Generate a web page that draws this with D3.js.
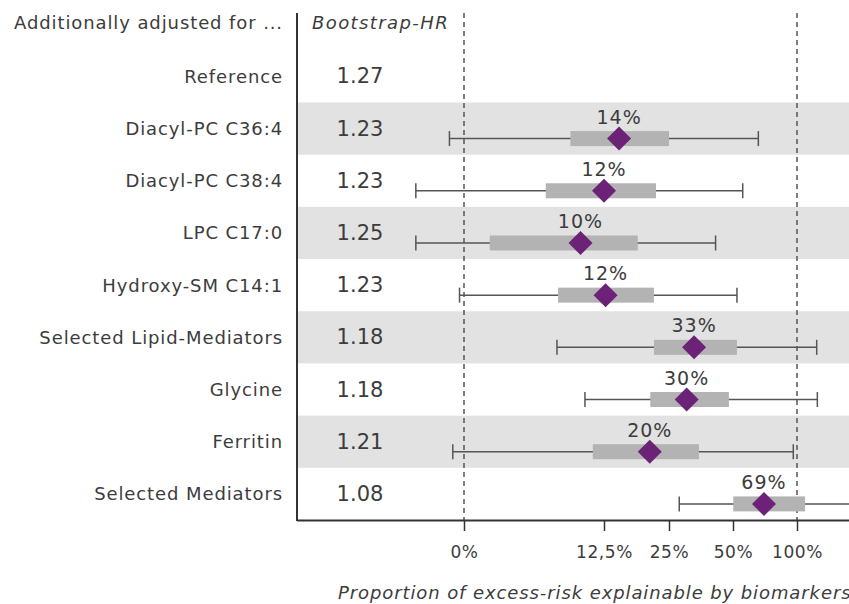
<!DOCTYPE html>
<html><head><meta charset="utf-8">
<script src="https://cdn.jsdelivr.net/npm/d3@7/dist/d3.min.js"></script>
<style>
body{margin:0;background:#fff;}
svg{display:block;font-family:"DejaVu Sans",sans-serif;}
</style></head>
<body><svg id="c" width="849" height="604"></svg>
<script>
// ---- data ----
const categories = ["Reference","Diacyl-PC C36:4","Diacyl-PC C38:4","LPC C17:0","Hydroxy-SM C14:1","Selected Lipid-Mediators","Glycine","Ferritin","Selected Mediators"];
const hrValues   = ["1.27","1.23","1.23","1.25","1.23","1.18","1.18","1.21","1.08"];
const pctLabels  = [null,"14%","12%","10%","12%","33%","30%","20%","69%"];
const pointEst   = [null,0.154,0.125,0.104,0.128,0.348,0.319,0.213,0.742];
const boxLow     = [null,0.095,0.073,0.023,0.084,0.221,0.214,0.115,0.502];
const boxHigh    = [null,0.250,0.225,0.190,0.221,0.531,0.484,0.367,1.063];
const ciLow      = [null,-0.013,-0.043,-0.043,-0.004,0.083,0.108,-0.010,0.290];
const ciHigh     = [null,0.698,0.576,0.432,0.531,1.154,1.159,0.971,1.500];
const tickValues = [0,0.125,0.25,0.5,1];
const tickLabels = ["0%","12,5%","25%","50%","100%"];
const bandRows   = [1,3,5,7];

// ---- layout ----
const W = 849, H = 604;
const axisX = 297, plotRight = 849, topY = 50.3, bottomY = 520;
const svg = d3.select("#c");
const txt = "#3c3c3c";
const labelStyle = s => s.style("font-size","18px").style("letter-spacing","0.9px").attr("fill",txt);

const y = d3.scaleBand().domain(d3.range(categories.length)).range([topY, bottomY]).padding(0);
const rh = y.bandwidth();
// nonlinear axis: linear below 12.5%, doubling steps above
const x = d3.scaleLinear().domain(tickValues).range([464,604,669,733,797]);

// background bands
svg.append("g").selectAll("rect").data(bandRows).join("rect")
  .attr("x", axisX+1).attr("y", d=>y(d)).attr("width", plotRight-axisX-1).attr("height", rh)
  .attr("fill","#e2e2e2");

// dashed reference lines
svg.append("g").selectAll("line").data([0,1]).join("line")
  .attr("x1", d=>x(d)).attr("x2", d=>x(d)).attr("y1", 13).attr("y2", bottomY)
  .attr("stroke","#555").attr("stroke-width",1.5).attr("stroke-dasharray","5,4");

// axes lines
svg.append("line").attr("x1",axisX).attr("x2",axisX).attr("y1",13).attr("y2",bottomY+1)
  .attr("stroke","#333").attr("stroke-width",2);
const xAxis = d3.axisBottom(x).tickValues(tickValues).tickFormat((d,i)=>tickLabels[i]).tickSize(11).tickSizeOuter(0);
const gx = svg.append("g").attr("transform",`translate(0,${bottomY})`).call(xAxis);
gx.select(".domain").attr("d",`M${axisX},0.5H${plotRight}`).attr("stroke","#333").attr("stroke-width",2);
gx.selectAll(".tick line").attr("stroke","#333").attr("stroke-width",1.5);
gx.selectAll(".tick text").attr("y",26).attr("fill",txt)
  .style("font-size","17px").style("letter-spacing","0.6px").style("font-family","'DejaVu Sans',sans-serif");

// header
svg.append("text").attr("x",283).attr("y",28.5).attr("text-anchor","end")
  .call(labelStyle).text("Additionally adjusted for ...");
svg.append("text").attr("x",312).attr("y",28.5).style("font-style","italic")
  .call(labelStyle).style("letter-spacing","1.4px").text("Bootstrap-HR");

// row labels
svg.append("g").selectAll("text").data(categories).join("text")
  .attr("x",283).attr("y",(d,i)=>y(i)+rh/2+6.5).attr("text-anchor","end")
  .call(labelStyle).text(d=>d);
svg.append("g").selectAll("text").data(hrValues).join("text")
  .attr("x",360).attr("y",(d,i)=>y(i)+rh/2+7).attr("text-anchor","middle").attr("fill",txt)
  .style("font-size","21px").text(d=>d);

// forest marks
const idx = d3.range(1,categories.length);
svg.append("clipPath").attr("id","pc").append("rect")
  .attr("x",axisX+1).attr("y",0).attr("width",plotRight-axisX).attr("height",H);
const g = svg.append("g").attr("clip-path","url(#pc)");
const cy = i => y(i)+rh/2+10;
g.selectAll(".ci").data(idx).join("line")
  .attr("x1",i=>x(ciLow[i])).attr("x2",i=>x(ciHigh[i])).attr("y1",cy).attr("y2",cy)
  .attr("stroke","#555").attr("stroke-width",1.5);
g.selectAll(".capL").data(idx).join("line")
  .attr("x1",i=>x(ciLow[i])).attr("x2",i=>x(ciLow[i])).attr("y1",i=>cy(i)-7.5).attr("y2",i=>cy(i)+7.5)
  .attr("stroke","#555").attr("stroke-width",1.5);
g.selectAll(".capR").data(idx).join("line")
  .attr("x1",i=>x(ciHigh[i])).attr("x2",i=>x(ciHigh[i])).attr("y1",i=>cy(i)-7.5).attr("y2",i=>cy(i)+7.5)
  .attr("stroke","#555").attr("stroke-width",1.5);
g.selectAll(".box").data(idx).join("rect")
  .attr("x",i=>x(boxLow[i])).attr("width",i=>x(boxHigh[i])-x(boxLow[i]))
  .attr("y",i=>cy(i)-7.5).attr("height",15).attr("fill","#b3b3b3");
g.selectAll(".dia").data(idx).join("path")
  .attr("d",i=>{const px=x(pointEst[i]), py=cy(i), r=12; return `M${px},${py-r}L${px+r},${py}L${px},${py+r}L${px-r},${py}Z`;})
  .attr("fill","#6b2277");
g.selectAll(".pl").data(idx).join("text")
  .attr("x",i=>x(pointEst[i])).attr("y",i=>cy(i)-15).attr("text-anchor","middle").attr("fill",txt)
  .style("font-size","19px").style("letter-spacing","1px").text(i=>pctLabels[i]);

// x title
svg.append("text").attr("x",338).attr("y",599).style("font-style","italic")
  .call(labelStyle).text("Proportion of excess-risk explainable by biomarkers");
</script></body></html>
